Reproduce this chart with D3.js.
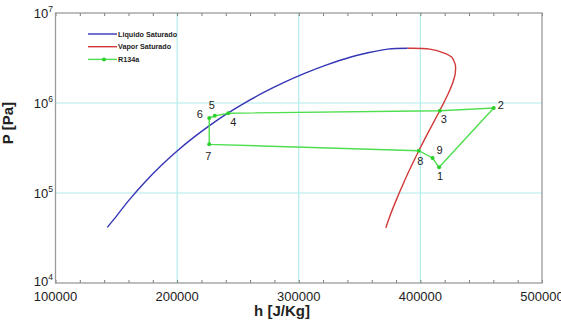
<!DOCTYPE html>
<html>
<head>
<meta charset="utf-8">
<script src="https://cdn.jsdelivr.net/npm/d3@7"></script>
<style>
  body { margin: 0; background: #fff; }
  svg { display: block; }
</style>
</head>
<body>
<div id="chart"></div>
<script>
// Saturation curve, liquid side (h [J/Kg], P [Pa])
var liqH = [142600, 148100, 160800, 173600, 186700, 200000, 213600, 227500, 241700, 256400,
            271600, 287500, 304300, 322400, 342900, 356100, 373300, 389600];
var liqP = [41500, 51200, 84400, 132700, 200600, 292800, 414600, 571700, 770200, 1016600,
            1318100, 1681800, 2116800, 2633200, 3244200, 3591000, 3972400, 4059000];

// Saturation curve, vapour side
var vapH = [389600, 407700, 419600, 425700, 427600, 428800, 428650, 426600, 423400, 419400,
            414800, 409750, 404300, 398600, 392700, 386550, 380300, 374000, 371600];
var vapP = [4059000, 3972400, 3591000, 3244200, 2926000, 2633200, 2116800, 1681800, 1318100, 1016600,
            770200, 571700, 414600, 292800, 200600, 132700, 84400, 51200, 41000];

// R134a cycle
var cycleLabels = ["1", "2", "3", "4", "5", "6", "7", "8", "9"];
var cycleH = [415400, 460300, 416000, 242000, 231000, 226400, 226400, 398700, 410000];
var cycleP = [193000, 880000, 820000, 770000, 720000, 680000, 347000, 295000, 245000];

var xTicks = [100000, 200000, 300000, 400000, 500000];
var yTicks = [1e4, 1e5, 1e6, 1e7];
var legendNames = ["Liquido Saturado", "Vapor Saturado", "R134a"];

var W = 561, H = 329,
    font_family = "'Liberation Sans', Arial, Helvetica, sans-serif",
    colors = {liq: "#3535b5", vap: "#d23a3a", cyc: "#4ede4e", grid: "#b2ecec", axis: "#9a9a9a"};

// label placement around the cycle points (px)
var labelOffsets = [[1, 9], [7, -3], [4, 8.5], [5, 8.5], [-3, -10.5], [-9.5, -4], [-1, 11.5], [1.5, 10.5], [7, -8]];

var x = d3.scaleLinear().domain([100000, 500000]).range([55.5, 542]),
    y = d3.scaleLog().domain([1e4, 1e7]).range([283, 13]);

var svg = d3.select("#chart").append("svg")
  .attr("width", W)
  .attr("height", H)
  .style("font-family", font_family);

// Grid
svg.append("g").selectAll("line")
  .data([200000, 300000, 400000])
  .enter().append("line")
    .attr("x1", function(d){ return x(d); })
    .attr("x2", function(d){ return x(d); })
    .attr("y1", y(1e7)).attr("y2", y(1e4))
    .attr("stroke", colors.grid).attr("stroke-width", 1.2);
svg.append("g").selectAll("line")
  .data([1e5, 1e6])
  .enter().append("line")
    .attr("y1", function(d){ return y(d); })
    .attr("y2", function(d){ return y(d); })
    .attr("x1", x(100000)).attr("x2", x(500000))
    .attr("stroke", colors.grid).attr("stroke-width", 1.2);

// Minor/major ticks (inside, bottom and top)
var minor = d3.range(100000, 500001, 20000);
var tickBottom = svg.append("g")
  .attr("transform", "translate(0," + y(1e4) + ")")
  .call(d3.axisBottom(x).tickValues(minor).tickSize(-3).tickFormat(""));
var tickTop = svg.append("g")
  .attr("transform", "translate(0," + y(1e7) + ")")
  .call(d3.axisTop(x).tickValues(minor).tickSize(-3).tickFormat(""));
[tickBottom, tickTop].forEach(function(g){
  g.select(".domain").remove();
  g.selectAll("line").attr("stroke", "#555").attr("stroke-width", 0.8);
});

// Frame
svg.append("rect")
  .attr("x", x(100000)).attr("y", y(1e7))
  .attr("width", x(500000) - x(100000))
  .attr("height", y(1e4) - y(1e7))
  .attr("fill", "none")
  .attr("stroke", colors.axis)
  .attr("stroke-width", 1.3);

// X tick labels
svg.append("g").selectAll("text")
  .data(xTicks)
  .enter().append("text")
    .attr("x", function(d){ return x(d); })
    .attr("y", 300.5)
    .attr("text-anchor", "middle")
    .attr("font-size", "13px")
    .attr("fill", "#222")
    .text(function(d){ return d; });

// Y tick labels (10^n)
var yLab = svg.append("g").selectAll("text")
  .data(yTicks)
  .enter().append("text")
    .attr("x", 53)
    .attr("y", function(d){ return y(d) + (d == 1e4 ? 3 : 4.5); })
    .attr("text-anchor", "end")
    .attr("font-size", "13px")
    .attr("fill", "#222");
yLab.append("tspan").text("10");
yLab.append("tspan")
  .attr("font-size", "8.5px")
  .attr("dy", "-6")
  .text(function(d){ return Math.round(Math.log10(d)); });

// Axis titles
svg.append("text")
  .attr("x", 282).attr("y", 316)
  .attr("text-anchor", "middle")
  .attr("font-size", "15px")
  .attr("font-weight", "bold")
  .attr("fill", "#222")
  .text("h [J/Kg]");
svg.append("text")
  .attr("transform", "translate(13,123) rotate(-90)")
  .attr("text-anchor", "middle")
  .attr("font-size", "15px")
  .attr("font-weight", "bold")
  .attr("fill", "#222")
  .text("P [Pa]");

// Curves
var line = d3.line()
  .x(function(d){ return x(d[0]); })
  .y(function(d){ return y(d[1]); })
  .curve(d3.curveCatmullRom);

svg.append("path")
  .datum(d3.zip(liqH, liqP))
  .attr("d", line)
  .attr("fill", "none")
  .attr("stroke", colors.liq)
  .attr("stroke-width", 1.4);

svg.append("path")
  .datum(d3.zip(vapH, vapP))
  .attr("d", line)
  .attr("fill", "none")
  .attr("stroke", colors.vap)
  .attr("stroke-width", 1.4);

// Cycle
var cycle = d3.zip(cycleH, cycleP);
svg.append("path")
  .datum(cycle.concat([cycle[0]]))
  .attr("d", line.curve(d3.curveLinear))
  .attr("fill", "none")
  .attr("stroke", colors.cyc)
  .attr("stroke-width", 1.4);

svg.append("g").selectAll("circle")
  .data(cycle)
  .enter().append("circle")
    .attr("cx", function(d){ return x(d[0]); })
    .attr("cy", function(d){ return y(d[1]); })
    .attr("r", 2)
    .attr("fill", "#2ccf2c");

svg.append("g").selectAll("text")
  .data(cycle)
  .enter().append("text")
    .attr("x", function(d, i){ return x(d[0]) + labelOffsets[i][0]; })
    .attr("y", function(d, i){ return y(d[1]) + labelOffsets[i][1]; })
    .attr("text-anchor", "middle")
    .attr("dominant-baseline", "central")
    .attr("font-size", "11px")
    .attr("fill", "#222")
    .text(function(d, i){ return cycleLabels[i]; });

// Legend
var legendColors = [colors.liq, colors.vap, colors.cyc];
var leg = svg.append("g").selectAll("g")
  .data(legendNames)
  .enter().append("g")
    .attr("transform", function(d, i){ return "translate(88," + (34 + i * 12.7) + ")"; });
leg.append("line")
  .attr("x1", 0).attr("x2", 29)
  .attr("stroke", function(d, i){ return legendColors[i]; })
  .attr("stroke-width", 1.4);
leg.filter(function(d, i){ return i == 2; }).append("circle")
  .attr("cx", 16).attr("r", 2).attr("fill", "#2ccf2c");
leg.append("text")
  .attr("x", 30)
  .attr("dy", "0.35em")
  .attr("font-size", "7.2px")
  .attr("font-weight", "bold")
  .attr("fill", "#222")
  .text(function(d){ return d; });
</script>
</body>
</html>
